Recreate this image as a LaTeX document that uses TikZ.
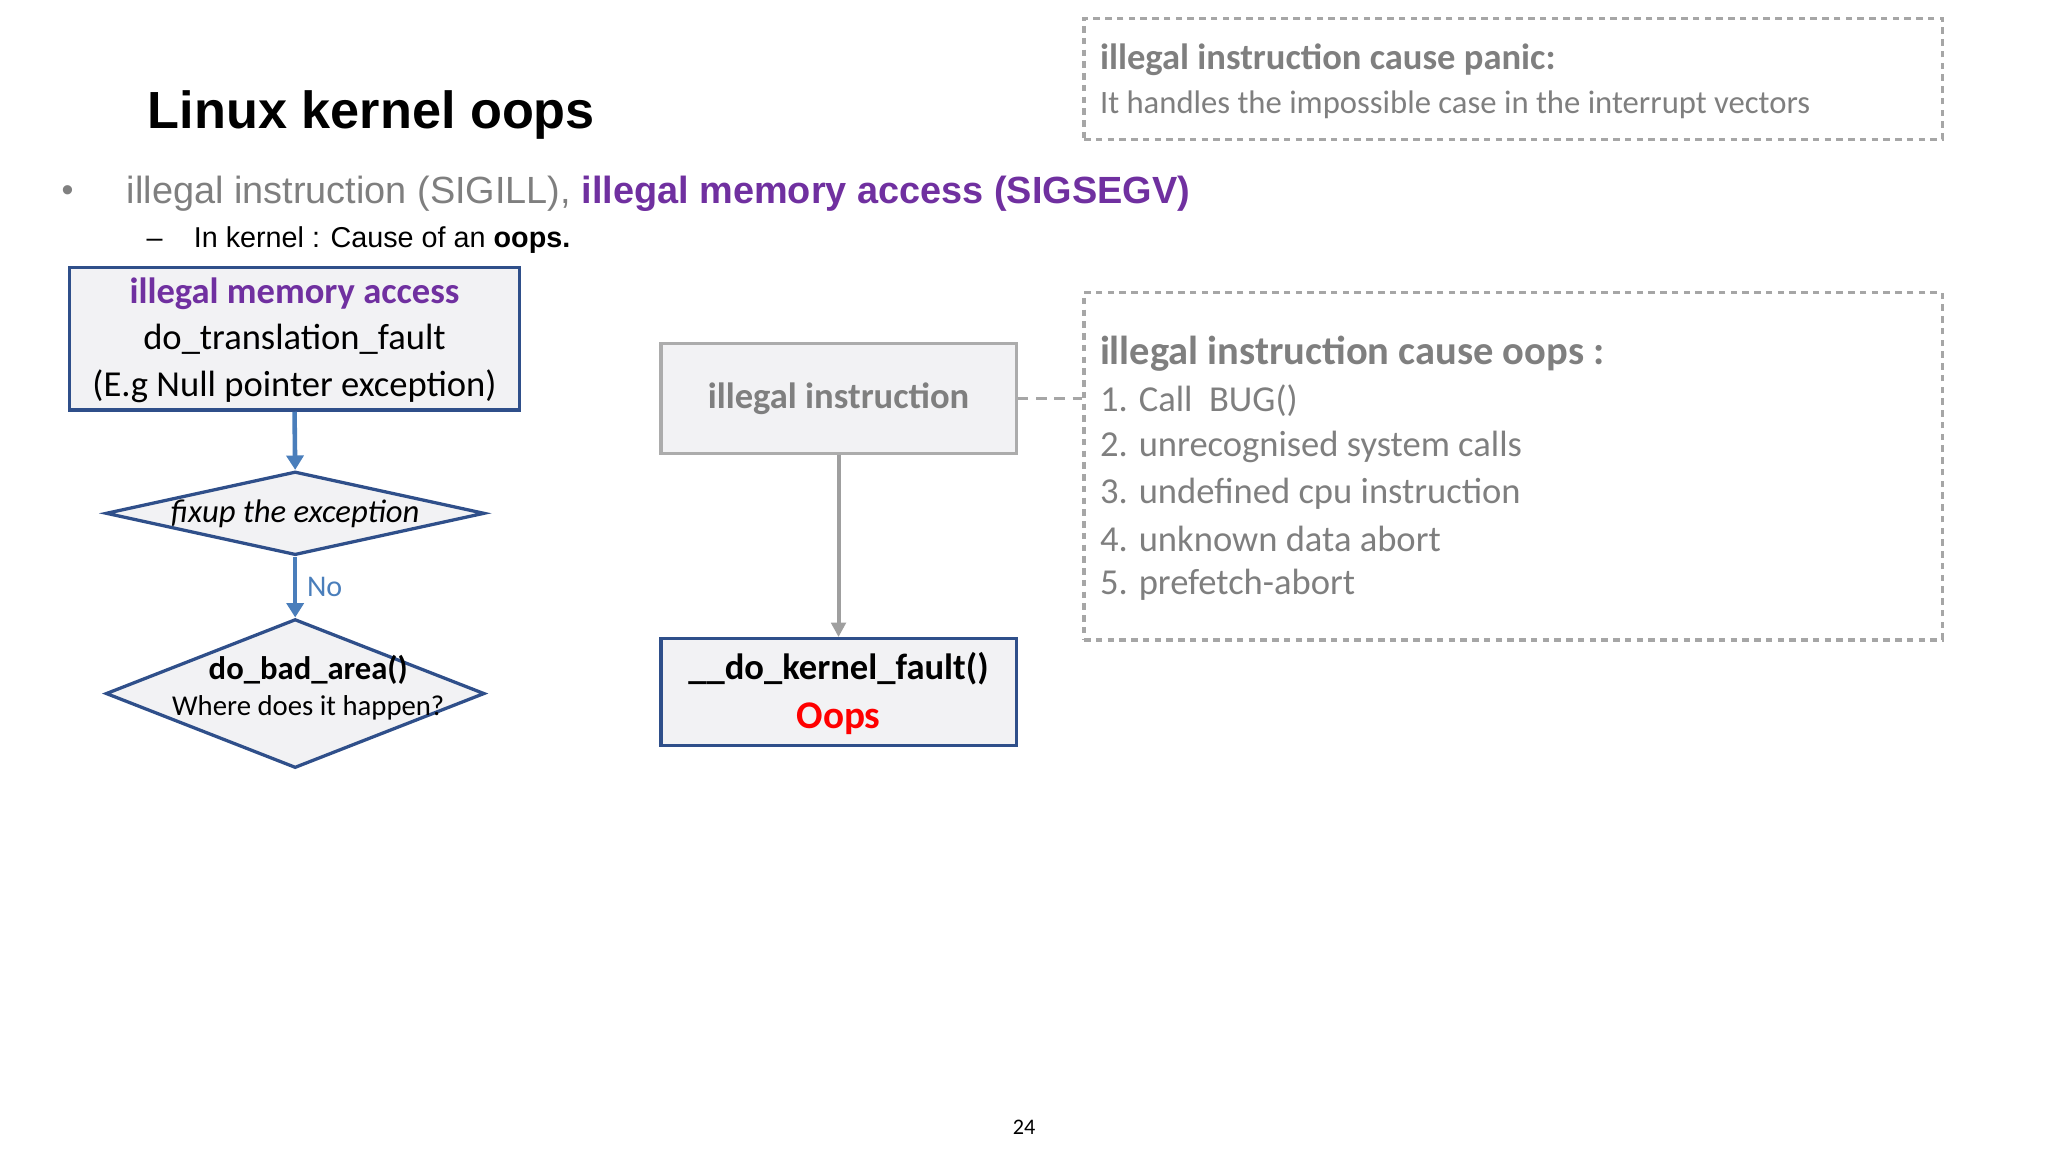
\documentclass[tikz,border=0pt]{standalone}
\usepackage{fontspec}
\setmainfont{Carlito}
\newfontfamily\arial{Liberation Sans}
\usetikzlibrary{shapes.geometric,arrows.meta}
\definecolor{bord}{HTML}{2F4F8A}
\definecolor{arr}{HTML}{4A7EBB}
\definecolor{purp}{HTML}{7030A0}
\definecolor{gtxt}{HTML}{7F7F7F}
\definecolor{fillg}{HTML}{F2F2F4}
\newcommand{\fs}[1]{\fontsize{#1}{#1}\selectfont}
\begin{document}
\begin{tikzpicture}[x=1pt,y=-1pt,
  box/.style={draw=bord,line width=2.5pt,fill=fillg,inner sep=0pt},
  dia/.style={diamond,aspect=4.5,draw=bord,line width=2.5pt,fill=fillg,inner sep=0pt},
  dbox/.style={draw=gray!70,dashed,dash pattern=on 5pt off 4pt,line width=2.5pt,inner sep=0pt},
  barr/.style={draw=arr,line width=3.5pt,-{Triangle[length=11pt,width=13pt]}},
  garr/.style={draw=gray!75,line width=3pt,-{Triangle[length=11pt,width=11pt]}},
  lt/.style={anchor=west,text=gtxt,inner sep=0pt}]
\useasboundingbox (0,0) rectangle (1568,882);
\node[anchor=west,inner sep=0pt] (title) at (113,88) {\arial\bfseries\fs{40}Linux kernel oops};
\node[anchor=west,inner sep=0pt,text=gray] (dot) at (47,148) {\arial\fs{26}•};
\node[anchor=west,inner sep=0pt] (b1) at (97,148) {\arial\fs{29}\textcolor{gtxt}{illegal instruction (SIGILL),} \textcolor{purp}{\bfseries illegal memory access (SIGSEGV)}};
\node[anchor=west,inner sep=0pt] (b2) at (112,184) {\arial\fs{22}–\hspace{24pt}In kernel : Cause of an \textbf{oops.}};
% top-right dashed box
\node[dbox,minimum width=657,minimum height=93] (panic) at (1158.5,60.5) {};
\node[lt] (p1) at (842,46) {\fs{28}\bfseries illegal instruction cause panic:};
\node[lt] (p2) at (842,80) {\fs{25}It handles the impossible case in the interrupt vectors};
% left flow
\node[box,minimum width=345,minimum height=109,align=center] (mem) at (225.5,259.5) {};
\node (m1) at (225.5,225) {\fs{28}\bfseries\color{purp}illegal memory access};
\node (m2) at (225.5,260) {\fs{28}do\_translation\_fault};
\node (m3) at (225.5,296) {\fs{28}(E.g Null pointer exception)};
\node[dia,minimum width=290,minimum height=64] (fix) at (226,393) {};
\node (fixt) at (226,393) {\fs{25}\itshape fixup the exception};
\node[dia,minimum width=290,minimum height=114] (bad) at (226,531) {};
\node (bad1) at (236,513) {\fs{25}\bfseries do\_bad\_area()};
\node (bad2) at (236,542) {\fs{22}Where does it happen?};
\draw[barr] (mem.south) -- (fix.north);
\draw[barr] (fix.south) -- node[right,text=arr,xshift=4pt]{\fs{23}No} (bad.north);
% middle
\node[draw=gray!65,line width=2.5pt,fill=fillg,minimum width=272,minimum height=84] (ill) at (642,305) {\fs{28}\bfseries\color{gtxt}illegal instruction};
\node[box,minimum width=272,minimum height=82] (kf) at (642,530) {};
\node (kf1) at (642,512) {\fs{28}\bfseries \_\_do\_kernel\_fault()};
\node (kf2) at (642,550) {\fs{30}\bfseries\color{red}Oops};
\draw[garr] (ill.south) -- (kf.north);
% right dashed box
\node[dbox,minimum width=657,minimum height=266] (oops) at (1158.5,357) {};
\draw[gray!70,line width=2pt,dash pattern=on 8pt off 6pt] (ill.east) -- (ill.east -| oops.west);
\node[lt] (o0) at (842,271) {\fs{31}\bfseries illegal instruction cause oops :};
\node[lt] (o1) at (842,307) {\fs{28}1. Call \ BUG()};
\node[lt] (o2) at (842,342) {\fs{28}2. unrecognised system calls};
\node[lt] (o3) at (842,378) {\fs{28}3. undefined cpu instruction};
\node[lt] (o4) at (842,413) {\fs{28}4. unknown data abort};
\node[lt] (o5) at (842,448) {\fs{28}5. prefetch-abort};
\node (pg) at (784,863) {\fs{17}24};
\end{tikzpicture}
\end{document}
